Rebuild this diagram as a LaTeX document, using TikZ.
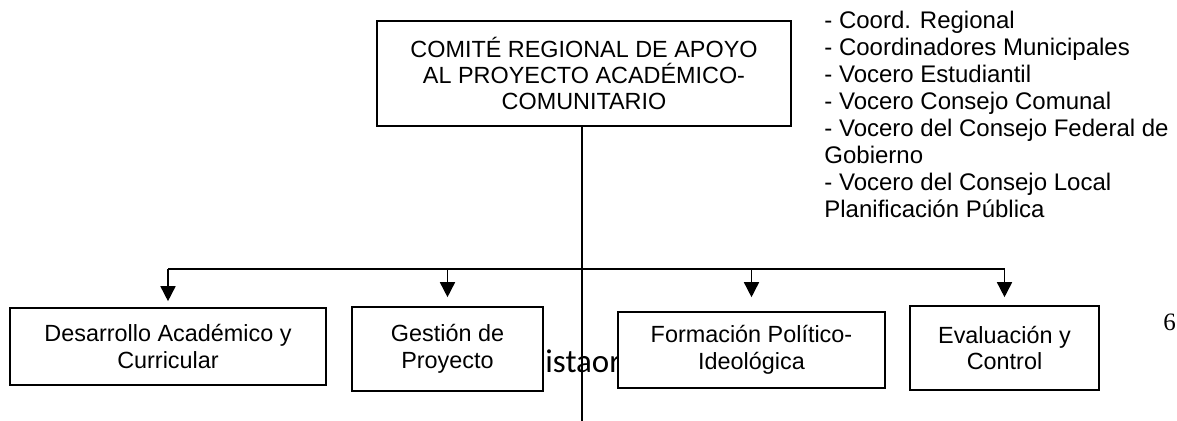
\documentclass[tikz,border=0pt]{standalone}
\usepackage{fontspec}
\setmainfont{Liberation Sans}
\newfontfamily\calibri{Carlito}
\newfontfamily\tiempos{Liberation Serif}
\usetikzlibrary{arrows.meta,positioning,calc}

\tikzset{
  caja/.style={draw, fill=white, line width=0.8pt, align=center, inner sep=2pt},
  linea/.style={line width=0.8pt},
  flecha/.style={line width=0.8pt, -{Triangle[width=7.5pt,length=7.5pt]}}
}

\begin{document}
\begin{tikzpicture}[x=0.5pt, y=-0.5pt, font=\fontsize{11.7}{13.2}\selectfont]
    \useasboundingbox (0,0) rectangle (1177,421);
    \node[font=\calibri\fontsize{16.5}{18}\selectfont, anchor=base west, inner sep=0] (rotulo) at (545,373) {istaor};
    \node[caja, minimum width=207pt, minimum height=52.5pt] (comite) at (584,73.5) {COMITÉ REGIONAL DE APOYO\\AL PROYECTO ACADÉMICO-\\COMUNITARIO};
    \node[anchor=north west, align=left, inner sep=0, font=\fontsize{12}{13.45}\selectfont] (miembros) at (824,11) {- Coord. Regional\\- Coordinadores Municipales\\- Vocero Estudiantil\\- Vocero Consejo Comunal\\- Vocero del Consejo Federal de\\Gobierno\\- Vocero del Consejo Local\\Planificación Pública};
    \node[caja, minimum width=158pt, minimum height=38.5pt] (desarrollo) at (168,346.5) {Desarrollo Académico y\\Curricular};
    \node[caja, minimum width=95.5pt, minimum height=42pt] (gestion) at (447.5,349) {Gestión de\\Proyecto};
    \node[caja, minimum width=133.5pt, minimum height=38pt] (formacion) at (751.5,350) {Formación Político-\\Ideológica};
    \node[caja, minimum width=94.5pt, minimum height=42pt] (evaluacion) at (1004.5,348) {Evaluación y\\Control};
    \node[font=\tiempos\fontsize{12.5}{14}\selectfont, anchor=west, inner sep=0] (pagina) at (1163,322) {6};
    \coordinate (bus) at (582,269);
    \coordinate (pie) at (582,421);
    \draw[linea] (comite.south -| pie) -- (pie);
    \draw[linea] (bus -| desarrollo) -- (bus -| evaluacion);
    \draw[flecha, shorten >=3pt] (bus -| desarrollo) -- (desarrollo.north);
    \draw[flecha, shorten >=4.5pt] (bus -| gestion) -- (gestion.north);
    \draw[flecha, shorten >=7pt] (bus -| formacion) -- (formacion.north);
    \draw[flecha, shorten >=4pt] (bus -| evaluacion) -- (evaluacion.north);
  \end{tikzpicture}
\end{document}
